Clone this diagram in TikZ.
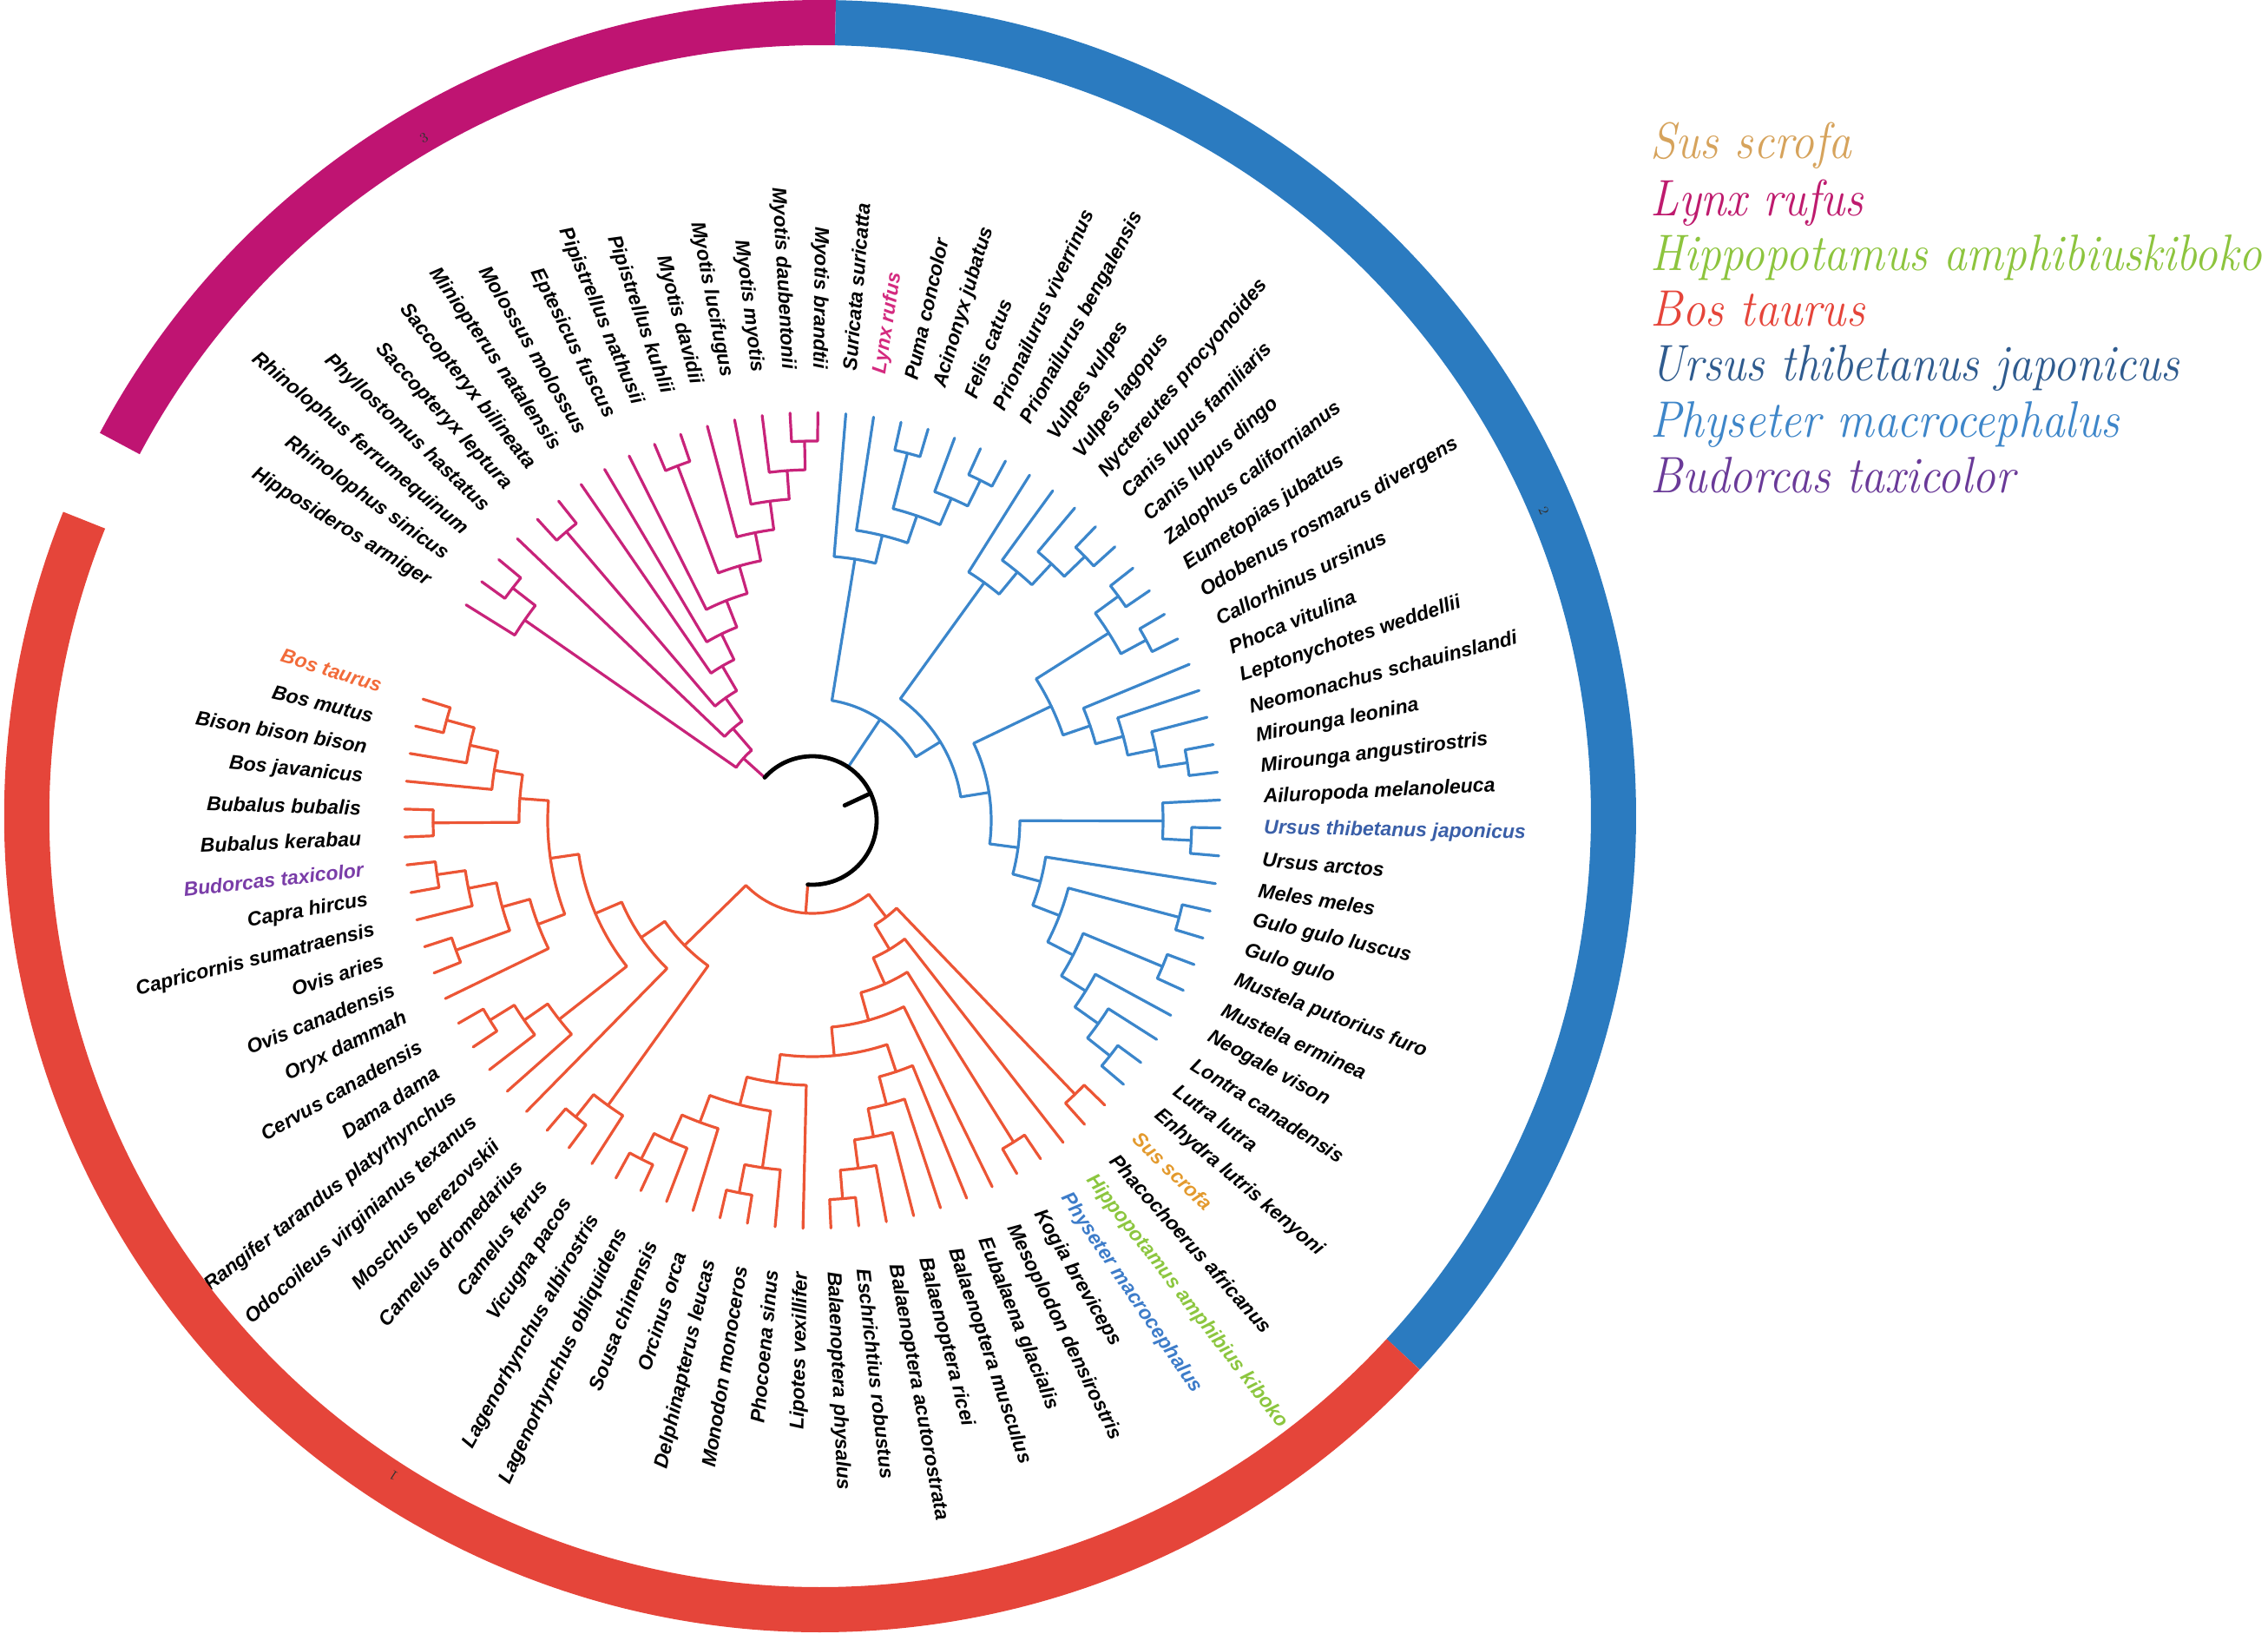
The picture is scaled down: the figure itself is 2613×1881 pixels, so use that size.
\documentclass[tikz,border=0pt]{standalone}
\usepackage{fontspec}
\usepackage{graphicx}
\newfontfamily\labfont{Liberation Sans}
\definecolor{pinkT}{HTML}{C8237A}
\definecolor{blueT}{HTML}{3B86CB}
\definecolor{redT}{HTML}{EC5535}
\definecolor{pinkR}{HTML}{BF1472}
\definecolor{blueR}{HTML}{2B7BC0}
\definecolor{redR}{HTML}{E5453A}
\definecolor{lynxL}{HTML}{D42A7F}
\definecolor{bosL}{HTML}{F26B3A}
\definecolor{budL}{HTML}{7A3DA8}
\definecolor{ursL}{HTML}{3A5FA8}
\definecolor{susL}{HTML}{E39A2E}
\definecolor{hipL}{HTML}{8CC63F}
\definecolor{phyL}{HTML}{3D7CC9}
\definecolor{susG}{HTML}{D6A35C}
\definecolor{lynG}{HTML}{BE1B6E}
\definecolor{hipG}{HTML}{8DC43E}
\definecolor{bosG}{HTML}{E5453A}
\definecolor{ursG}{HTML}{2F5B8E}
\definecolor{phyG}{HTML}{3E86C9}
\definecolor{budG}{HTML}{6A3A98}
\makeatletter
\newcommand\AngSet[2]{\pgfmathsetmacro\tmp@ang{#2}\expandafter\xdef\csname ang@#1\endcsname{\tmp@ang}}
\newcommand\Ang[1]{\csname ang@#1\endcsname}
\makeatother
\newcommand\Node[3]{\AngSet{#1}{(\Ang{#2}+\Ang{#3})/2}}
\newcommand\Clade[5]{\draw (\Ang{#2}:#1) arc[start angle=\Ang{#2}, end angle=\Ang{#4}, radius=#1] (\Ang{#2}:#1) -- (\Ang{#2}:#3) (\Ang{#4}:#1) -- (\Ang{#4}:#5);}
\newcommand\Lab[3]{%
  \ifnum#1<17 \def\flipme{1}\else\ifnum#1>61 \def\flipme{1}\else\def\flipme{0}\fi\fi
  \if1\flipme
    \pgfmathsetmacro\rotang{\Ang{L#1}+180}%
    \node[lab,text=#3,anchor=east,rotate=\rotang] (t#1) at (\Ang{L#1}:520) {#2};%
  \else
    \node[lab,text=#3,anchor=west,rotate=\Ang{L#1}] (t#1) at (\Ang{L#1}:520) {#2};%
  \fi}
\foreach \i in {1,...,89}{\AngSet{L\i}{148.1-(\i-1)*3.925}}
\tikzset{
  lab/.style={font={\labfont\bfseries\itshape\fontsize{11.5}{13}\selectfont}, inner sep=0pt},
  legtxt/.style={font={\itshape\fontsize{29.5}{34}\selectfont}, inner sep=0pt, anchor=base west},
  ringnum/.style={font={\fontsize{8}{9}\selectfont}, text=black!80, inner sep=0pt},
  branch/.style={line width=1.6pt, line cap=round, line join=round}
}
\begin{document}
\begin{tikzpicture}[x=0.5pt,y=0.5pt]
\useasboundingbox (-936,-936) rectangle (1677,945);
% ---------- node angles ----------
% pink
\Node{P10}{L15}{L16}\Node{P9}{L14}{P10}\Node{P8}{L13}{P9}\Node{P7}{L12}{P8}
\Node{Q}{L10}{L11}\Node{P6}{Q}{P7}\Node{P5}{L9}{P6}\Node{P4}{L8}{P5}\Node{P3}{L7}{P4}
\Node{S}{L5}{L6}\Node{P2}{S}{P3}\Node{P1}{L4}{P2}\Node{Y1}{L2}{L3}\Node{Y}{L1}{Y1}\Node{P0}{Y}{P1}
% blue
\Node{F5}{L22}{L23}\Node{F4}{L21}{F5}\Node{F3}{L19}{L20}\Node{F2}{F3}{F4}\Node{F1}{L18}{F2}\Node{F0}{L17}{F1}
\Node{C3}{L27}{L28}\Node{C2}{L26}{C3}\Node{C1}{L25}{C2}\Node{C0}{L24}{C1}
\Node{A1}{L29}{L30}\Node{A2}{L31}{L32}\Node{A}{A1}{A2}
\Node{B3}{L36}{L37}\Node{B2}{L35}{B3}\Node{B1}{L34}{B2}\Node{B0}{L33}{B1}\Node{PN}{A}{B0}
\Node{U1}{L39}{L40}\Node{U}{L38}{U1}
\Node{M4p}{L48}{L49}\Node{M4}{L47}{M4p}\Node{M3}{L46}{M4}\Node{M2p}{L44}{L45}\Node{M2}{M2p}{M3}
\Node{M1p}{L42}{L43}\Node{M1}{M1p}{M2}\Node{M}{L41}{M1}\Node{AR}{U}{M}
\Node{K1}{PN}{AR}\Node{K0}{C0}{K1}\Node{BB}{F0}{K0}
% red
\Node{SU}{L50}{L51}\Node{PK}{L53}{L54}
\Node{MY4}{L60}{L61}\Node{MY3}{L59}{MY4}\Node{MY2}{L58}{MY3}\Node{MY1}{L57}{MY2}\Node{MY0}{L56}{MY1}
\Node{D1}{L64}{L65}\Node{DPM}{L63}{D1}\Node{E2}{L68}{L69}\Node{E1}{L67}{E2}\Node{DEL}{L66}{E1}
\Node{OD1}{DPM}{DEL}\Node{OD}{L62}{OD1}\Node{CET}{MY0}{OD}\Node{RR3}{L55}{CET}
\Node{RR2}{PK}{RR3}\Node{RR1}{L52}{RR2}\Node{RR0}{SU}{RR1}
\Node{CM1}{L71}{L72}\Node{CM}{L70}{CM1}
\Node{CE2}{L76}{L77}\Node{CE1}{L75}{CE2}\Node{CE}{L74}{CE1}
\Node{CA3}{L82}{L83}\Node{CA2}{L81}{CA3}\Node{CA4}{L79}{L80}\Node{CA1}{CA4}{CA2}\Node{CA}{L78}{CA1}
\Node{BO4}{L88}{L89}\Node{BO3}{L87}{BO4}\Node{BO2}{L86}{BO3}\Node{BO5}{L84}{L85}\Node{BO}{BO5}{BO2}
\Node{BV}{CA}{BO}\Node{CB}{CE}{BV}\Node{RUM}{L73}{CB}\Node{RL}{CM}{RUM}\Node{R0}{RL}{RR0}
% ---------- pink clade ----------
\begin{scope}[pinkT, branch]
\Clade{437}{L15}{470}{L16}{470}
\Clade{404}{L14}{470}{P10}{437}
\Clade{371}{L13}{470}{P9}{404}
\Clade{338}{L12}{470}{P8}{371}
\Clade{437}{L10}{470}{L11}{470}
\Clade{305}{Q}{437}{P7}{338}
\Clade{272}{L9}{470}{P6}{305}
\Clade{239}{L8}{470}{P5}{272}
\Clade{206}{L7}{470}{P4}{239}
\Clade{437}{L5}{470}{L6}{470}
\Clade{173}{S}{437}{P3}{206}
\Clade{140}{L4}{470}{P2}{173}
\Clade{437}{L2}{470}{L3}{470}
\Clade{404}{L1}{470}{Y1}{437}
\Clade{107}{Y}{404}{P1}{140}
\draw (\Ang{P0}:74) -- (\Ang{P0}:107);
\end{scope}
% ---------- blue clade ----------
\begin{scope}[blueT, branch]
\Clade{437}{L22}{470}{L23}{470}
\Clade{404}{L21}{470}{F5}{437}
\Clade{437}{L19}{470}{L20}{470}
\Clade{371}{F3}{437}{F4}{404}
\Clade{338}{L18}{470}{F2}{371}
\Clade{305}{L17}{470}{F1}{338}
\Clade{437}{L27}{470}{L28}{470}
\Clade{404}{L26}{470}{C3}{437}
\Clade{371}{L25}{470}{C2}{404}
\Clade{338}{L24}{470}{C1}{371}
\Clade{437}{L29}{470}{L30}{470}
\Clade{437}{L31}{470}{L32}{470}
\Clade{404}{A1}{437}{A2}{437}
\Clade{437}{L36}{470}{L37}{470}
\Clade{404}{L35}{470}{B3}{437}
\Clade{371}{L34}{470}{B2}{404}
\Clade{338}{L33}{470}{B1}{371}
\Clade{305}{A}{404}{B0}{338}
\Clade{437}{L39}{470}{L40}{470}
\Clade{404}{L38}{470}{U1}{437}
\Clade{437}{L48}{470}{L49}{470}
\Clade{404}{L47}{470}{M4p}{437}
\Clade{371}{L46}{470}{M4}{404}
\Clade{437}{L44}{470}{L45}{470}
\Clade{338}{M2p}{437}{M3}{371}
\Clade{437}{L42}{470}{L43}{470}
\Clade{305}{M1p}{437}{M2}{338}
\Clade{272}{L41}{470}{M1}{305}
\Clade{239}{U}{404}{M}{272}
\Clade{206}{PN}{305}{AR}{239}
\Clade{173}{C0}{338}{K1}{206}
\Clade{140}{F0}{305}{K0}{173}
\draw (\Ang{BB}:74) -- (\Ang{BB}:140);
\end{scope}
% ---------- red clade ----------
\begin{scope}[redT, branch]
\Clade{437}{L50}{470}{L51}{470}
\Clade{437}{L53}{470}{L54}{470}
\Clade{437}{L60}{470}{L61}{470}
\Clade{404}{L59}{470}{MY4}{437}
\Clade{371}{L58}{470}{MY3}{404}
\Clade{338}{L57}{470}{MY2}{371}
\Clade{305}{L56}{470}{MY1}{338}
\Clade{437}{L64}{470}{L65}{470}
\Clade{404}{L63}{470}{D1}{437}
\Clade{437}{L68}{470}{L69}{470}
\Clade{404}{L67}{470}{E2}{437}
\Clade{371}{L66}{470}{E1}{404}
\Clade{338}{DPM}{404}{DEL}{371}
\Clade{305}{L62}{470}{OD1}{338}
\Clade{272}{MY0}{305}{OD}{305}
\Clade{239}{L55}{470}{CET}{272}
\Clade{206}{PK}{437}{RR3}{239}
\Clade{173}{L52}{470}{RR2}{206}
\Clade{140}{SU}{437}{RR1}{173}
\Clade{437}{L71}{470}{L72}{470}
\Clade{404}{L70}{470}{CM1}{437}
\Clade{437}{L76}{470}{L77}{470}
\Clade{404}{L75}{470}{CE2}{437}
\Clade{371}{L74}{470}{CE1}{404}
\Clade{437}{L82}{470}{L83}{470}
\Clade{404}{L81}{470}{CA3}{437}
\Clade{437}{L79}{470}{L80}{470}
\Clade{371}{CA4}{437}{CA2}{404}
\Clade{338}{L78}{470}{CA1}{371}
\Clade{437}{L88}{470}{L89}{470}
\Clade{404}{L87}{470}{BO4}{437}
\Clade{371}{L86}{470}{BO3}{404}
\Clade{437}{L84}{470}{L85}{470}
\Clade{338}{BO5}{437}{BO2}{371}
\Clade{305}{CA}{338}{BO}{338}
\Clade{272}{CE}{371}{BV}{305}
\Clade{239}{L73}{470}{CB}{272}
\Clade{206}{CM}{404}{RUM}{239}
\Clade{107}{RL}{206}{RR0}{140}
\draw (\Ang{R0}:74) -- (\Ang{R0}:107);
\end{scope}
% ---------- root ----------
\draw[black, line width=2.4pt, line cap=round] (\Ang{P0}:74) arc[start angle=\Ang{P0}, end angle=\Ang{R0}, radius=74];
\draw[black, line width=2.4pt, line cap=round] (25:41) -- (25:74);
% ---------- labels ----------
\Lab{1}{Hipposideros armiger}{black}
\Lab{2}{Rhinolophus sinicus}{black}
\Lab{3}{Rhinolophus ferrumequinum}{black}
\Lab{4}{Phyllostomus hastatus}{black}
\Lab{5}{Saccopteryx leptura}{black}
\Lab{6}{Saccopteryx bilineata}{black}
\Lab{7}{Miniopterus natalensis}{black}
\Lab{8}{Molossus molossus}{black}
\Lab{9}{Eptesicus fuscus}{black}
\Lab{10}{Pipistrellus nathusii}{black}
\Lab{11}{Pipistrellus kuhlii}{black}
\Lab{12}{Myotis davidii}{black}
\Lab{13}{Myotis lucifugus}{black}
\Lab{14}{Myotis myotis}{black}
\Lab{15}{Myotis daubentonii}{black}
\Lab{16}{Myotis brandtii}{black}
\Lab{17}{Suricata suricatta}{black}
\Lab{18}{Lynx rufus}{lynxL}
\Lab{19}{Puma concolor}{black}
\Lab{20}{Acinonyx jubatus}{black}
\Lab{21}{Felis catus}{black}
\Lab{22}{Prionailurus viverrinus}{black}
\Lab{23}{Prionailurus bengalensis}{black}
\Lab{24}{Vulpes vulpes}{black}
\Lab{25}{Vulpes lagopus}{black}
\Lab{26}{Nyctereutes procyonoides}{black}
\Lab{27}{Canis lupus familiaris}{black}
\Lab{28}{Canis lupus dingo}{black}
\Lab{29}{Zalophus californianus}{black}
\Lab{30}{Eumetopias jubatus}{black}
\Lab{31}{Odobenus rosmarus divergens}{black}
\Lab{32}{Callorhinus ursinus}{black}
\Lab{33}{Phoca vitulina}{black}
\Lab{34}{Leptonychotes weddellii}{black}
\Lab{35}{Neomonachus schauinslandi}{black}
\Lab{36}{Mirounga leonina}{black}
\Lab{37}{Mirounga angustirostris}{black}
\Lab{38}{Ailuropoda melanoleuca}{black}
\Lab{39}{Ursus thibetanus japonicus}{ursL}
\Lab{40}{Ursus arctos}{black}
\Lab{41}{Meles meles}{black}
\Lab{42}{Gulo gulo luscus}{black}
\Lab{43}{Gulo gulo}{black}
\Lab{44}{Mustela putorius furo}{black}
\Lab{45}{Mustela erminea}{black}
\Lab{46}{Neogale vison}{black}
\Lab{47}{Lontra canadensis}{black}
\Lab{48}{Lutra lutra}{black}
\Lab{49}{Enhydra lutris kenyoni}{black}
\Lab{50}{Sus scrofa}{susL}
\Lab{51}{Phacochoerus africanus}{black}
\Lab{52}{Hippopotamus amphibius kiboko}{hipL}
\Lab{53}{Physeter macrocephalus}{phyL}
\Lab{54}{Kogia breviceps}{black}
\Lab{55}{Mesoplodon densirostris}{black}
\Lab{56}{Eubalaena glacialis}{black}
\Lab{57}{Balaenoptera musculus}{black}
\Lab{58}{Balaenoptera ricei}{black}
\Lab{59}{Balaenoptera acutorostrata}{black}
\Lab{60}{Eschrichtius robustus}{black}
\Lab{61}{Balaenoptera physalus}{black}
\Lab{62}{Lipotes vexillifer}{black}
\Lab{63}{Phocoena sinus}{black}
\Lab{64}{Monodon monoceros}{black}
\Lab{65}{Delphinapterus leucas}{black}
\Lab{66}{Orcinus orca}{black}
\Lab{67}{Sousa chinensis}{black}
\Lab{68}{Lagenorhynchus obliquidens}{black}
\Lab{69}{Lagenorhynchus albirostris}{black}
\Lab{70}{Vicugna pacos}{black}
\Lab{71}{Camelus ferus}{black}
\Lab{72}{Camelus dromedarius}{black}
\Lab{73}{Moschus berezovskii}{black}
\Lab{74}{Odocoileus virginianus texanus}{black}
\Lab{75}{Rangifer tarandus platyrhynchus}{black}
\Lab{76}{Dama dama}{black}
\Lab{77}{Cervus canadensis}{black}
\Lab{78}{Oryx dammah}{black}
\Lab{79}{Ovis canadensis}{black}
\Lab{80}{Ovis aries}{black}
\Lab{81}{Capricornis sumatraensis}{black}
\Lab{82}{Capra hircus}{black}
\Lab{83}{Budorcas taxicolor}{budL}
\Lab{84}{Bubalus kerabau}{black}
\Lab{85}{Bubalus bubalis}{black}
\Lab{86}{Bos javanicus}{black}
\Lab{87}{Bison bison bison}{black}
\Lab{88}{Bos mutus}{black}
\Lab{89}{Bos taurus}{bosL}
% ---------- outer ring ----------
\begin{scope}[shift={(9,5)}]
\draw[pinkR, line width=26pt] (152.0:914) arc[start angle=152.0, end angle=88.9, radius=914];
\draw[blueR, line width=26pt] (88.9:914) arc[start angle=88.9, end angle=-42.7, radius=914];
\draw[redR, line width=26pt] (158.1:914) arc[start angle=158.1, end angle=317.3, radius=914];
\node[ringnum, rotate=30.3] (n3) at (120.3:905) {3};
\node[ringnum, rotate=-67.1] (n2) at (22.9:905) {2};
\node[ringnum, rotate=147.1] (n1) at (-122.9:905) {1};
\end{scope}
% ---------- legend ----------
\node[legtxt, text=susG] (g1) at (965,762) {\scalebox{0.905}[1]{Sus scrofa}};
\node[legtxt, text=lynG] (g2) at (965,697) {\scalebox{0.905}[1]{Lynx rufus}};
\node[legtxt, text=hipG] (g3) at (965,633) {\scalebox{0.905}[1]{Hippopotamus amphibiuskiboko}};
\node[legtxt, text=bosG] (g4) at (965,570) {\scalebox{0.905}[1]{Bos taurus}};
\node[legtxt, text=ursG] (g5) at (965,507) {\scalebox{0.905}[1]{Ursus thibetanus japonicus}};
\node[legtxt, text=phyG] (g6) at (965,442) {\scalebox{0.905}[1]{Physeter macrocephalus}};
\node[legtxt, text=budG] (g7) at (965,378) {\scalebox{0.905}[1]{Budorcas taxicolor}};
\end{tikzpicture}
\end{document}
